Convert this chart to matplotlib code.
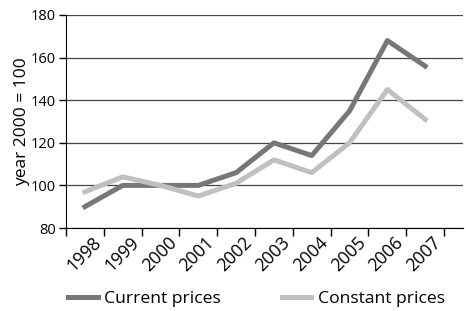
import matplotlib
matplotlib.use("Agg")
import matplotlib.pyplot as plt
import matplotlib.transforms as mtransforms
import numpy as np

years = ['1998', '1999', '2000', '2001', '2002', '2003', '2004', '2005', '2006', '2007']
current = [90, 100, 100, 100, 106, 120, 114, 135, 168, 156]
constant = [97, 104, 100, 95, 101, 112, 106, 120, 145, 131]

plt.rcParams['font.family'] = ['Open Sans', 'DejaVu Sans']
plt.rcParams['font.size'] = 10.5

fig = plt.figure(figsize=[4.66, 3.11], dpi=100)
ax = fig.add_axes([66 / 466, 1 - 228 / 311, 397 / 466, 213 / 311])

x = np.arange(len(years))
ax.plot(x, current, color='#777777', lw=3.6, label='Current prices', zorder=3)
ax.plot(x, constant, color='#c0c0c0', lw=3.6, label='Constant prices', zorder=3)

ax.set_xlim(-0.5, 10.0)
ax.set_ylim(80, 180)
ax.set_yticks(np.arange(80, 181, 20))
ax.yaxis.grid(True, color='#444444', lw=0.9)
ax.set_axisbelow(True)

# category boundaries as ticks, labels at centres
ax.set_xticks(np.arange(-0.5, 10, 1.0))
ax.set_xticklabels([])
ax.set_xticks(x, minor=True)
ax.set_xticklabels(years, minor=True, rotation=45, ha='right', va='top',
                   rotation_mode='anchor', fontsize=12.8)
ax.tick_params(axis='x', which='minor', length=0, pad=4)
ax.tick_params(axis='x', which='major', length=6, width=1, color='black')
ax.tick_params(axis='y', length=5, width=1, color='black', pad=2)

offset = mtransforms.ScaledTranslation(7 / 100, 0, fig.dpi_scale_trans)
for lab in ax.get_xticklabels(minor=True):
    lab.set_transform(lab.get_transform() + offset)

for s in ['top', 'right']:
    ax.spines[s].set_visible(False)
ax.spines['left'].set_color('black')
ax.spines['bottom'].set_color('black')

ax.set_ylabel('year 2000 = 100', labelpad=1, fontsize=12.5)

fig.legend(loc='lower left', bbox_to_anchor=(52 / 466, -12 / 311), ncol=2,
           frameon=False, handlelength=1.7, handletextpad=0.35,
           columnspacing=3.5, fontsize=12.6)

fig.savefig('out.png', dpi=100)
